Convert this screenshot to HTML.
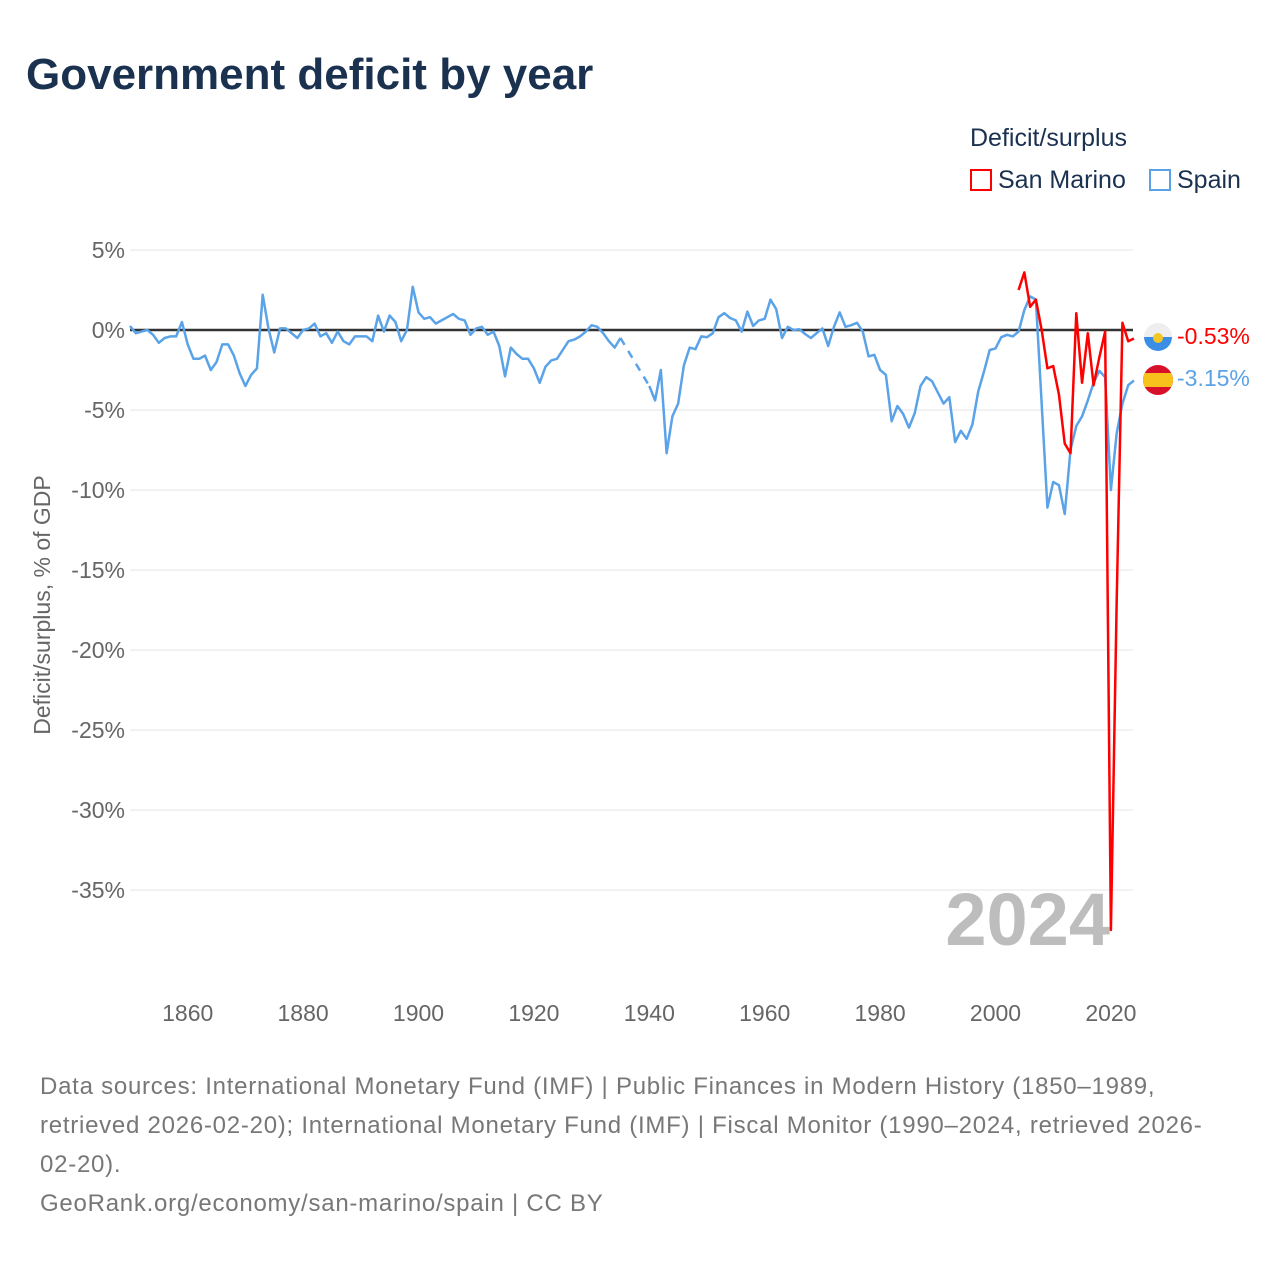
<!DOCTYPE html>
<html><head><meta charset="utf-8">
<style>
body{margin:0;background:#fff;font-family:"Liberation Sans",sans-serif;}
#wrap{position:relative;width:1280px;height:1280px;overflow:hidden;}
.t{position:absolute;white-space:nowrap;}
</style></head>
<body>
<div id="wrap">
<div class="t" style="left:26px;top:50px;font-size:44px;font-weight:bold;color:#1b3150;">Government deficit by year</div>
<div class="t" style="left:970px;top:124px;font-size:25px;color:#1b3150;">Deficit/surplus</div>
<div class="t" style="left:970px;top:166px;font-size:25px;color:#1b3150;"><span style="display:inline-block;width:22px;height:22px;border:2px solid #f00;box-sizing:border-box;vertical-align:-3px;margin-right:6px"></span>San Marino</div>
<div class="t" style="left:1149px;top:166px;font-size:25px;color:#1b3150;"><span style="display:inline-block;width:22px;height:22px;border:2px solid #5ba3e8;box-sizing:border-box;vertical-align:-3px;margin-right:6px"></span>Spain</div>
<svg id="chart" width="1280" height="1280" style="position:absolute;left:0;top:0"></svg>
<div class="t" style="left:40px;top:1067px;font-size:24px;line-height:39px;color:#777;letter-spacing:0.75px;">Data sources: International Monetary Fund (IMF) | Public Finances in Modern History (1850–1989,<br>retrieved 2026-02-20); International Monetary Fund (IMF) | Fiscal Monitor (1990–2024, retrieved 2026-<br>02-20).<br>GeoRank.org/economy/san-marino/spain | CC BY</div>
</div>
<script>
const startYear = 1850;
const spain = [0.25,-0.2,-0.1,0,-0.3,-0.8,-0.5,-0.4,-0.4,0.5,
-0.9,-1.8,-1.8,-1.6,-2.5,-2.0,-0.9,-0.9,-1.6,-2.7,
-3.5,-2.8,-2.4,2.2,0.1,-1.4,0.1,0.1,-0.2,-0.5,
0,0.1,0.4,-0.4,-0.2,-0.8,-0.1,-0.7,-0.9,-0.4,
-0.4,-0.4,-0.7,0.9,-0.1,0.9,0.5,-0.7,0,2.7,
1.1,0.7,0.8,0.4,0.6,0.8,1.0,0.7,0.6,-0.3,
0.1,0.2,-0.3,-0.1,-1.0,-2.9,-1.1,-1.5,-1.8,-1.8,
-2.4,-3.3,-2.3,-1.9,-1.8,-1.25,-0.7,-0.6,-0.4,-0.1,
0.3,0.2,-0.2,-0.7,-1.1,-0.5,null,null,null,null,
-3.5,-4.4,-2.5,-7.7,-5.4,-4.6,-2.2,-1.1,-1.2,-0.4,
-0.45,-0.2,0.8,1.05,0.75,0.6,-0.1,1.15,0.25,0.6,
0.7,1.9,1.3,-0.5,0.2,0,0.05,-0.25,-0.5,-0.2,
0.1,-1.0,0.2,1.1,0.2,0.3,0.45,-0.1,-1.65,-1.55,
-2.5,-2.8,-5.7,-4.75,-5.25,-6.1,-5.2,-3.5,-2.95,-3.2,
-3.9,-4.6,-4.2,-7.0,-6.3,-6.8,-5.9,-3.85,-2.6,-1.25,
-1.15,-0.45,-0.3,-0.4,-0.1,1.25,2.1,1.9,-4.6,-11.1,
-9.5,-9.7,-11.5,-7.5,-6.0,-5.4,-4.4,-3.3,-2.55,-2.95,
-10.0,-6.45,-4.6,-3.45,-3.15];
const smStart = 2004;
const sanMarino = [2.5,3.6,1.45,1.9,0,-2.4,-2.25,-4.05,-7.1,-7.7,1.05,-3.3,-0.2,-3.45,-1.7,-0.1,-37.5,-17,0.45,-0.7,-0.53];
const yTicks = [5,0,-5,-10,-15,-20,-25,-30,-35];
const xTicks = [1860,1880,1900,1920,1940,1960,1980,2000,2020];

const NS="http://www.w3.org/2000/svg";
const svg=document.getElementById('chart');
const X=y=>130+(y-1850)*5.77;
const Y=v=>330-v*16;
function mk(t,a){const e=document.createElementNS(NS,t);for(const k in a)e.setAttribute(k,a[k]);svg.appendChild(e);return e;}
yTicks.forEach(v=>{
  const l=mk('line',{x1:130,x2:1133,y1:Y(v),y2:Y(v),stroke:v===0?'#333':'#e6e6e6','stroke-width':v===0?2.5:1});
  
  
  const t=mk('text',{x:125,y:Y(v)+8,'text-anchor':'end','font-size':23,fill:'#666','font-family':'Liberation Sans, sans-serif'});
  t.textContent=v+'%';
  
  
});
xTicks.forEach(yr=>{
  const t=mk('text',{x:X(yr),y:1021,'text-anchor':'middle','font-size':23,fill:'#666','font-family':'Liberation Sans, sans-serif'});
  t.textContent=yr;
  
  
});
const yt=mk('text',{transform:'translate(50,605) rotate(-90)','text-anchor':'middle','font-size':23,fill:'#666','font-family':'Liberation Sans, sans-serif'});
yt.textContent='Deficit/surplus, % of GDP';


const yr=mk('text',{x:1110,y:945,'text-anchor':'end','font-size':74,'font-weight':'bold',fill:'#bdbdbd','font-family':'Liberation Sans, sans-serif'});
yr.textContent='2024';



function drawSeries(arr,start,color,name){
  let prev=null,d='';
  arr.forEach((v,i)=>{
    if(v===null)return;
    const p=[X(start+i),Y(v)];
    if(prev&&prev.i<i-1){
      const g=mk('line',{x1:prev.p[0],y1:prev.p[1],x2:p[0],y2:p[1],stroke:color,'stroke-width':2.5,'stroke-dasharray':'8,7',fill:'none'});
      
      
      d+='M'+p[0]+','+p[1];
    } else d+=(d?'L':'M')+p[0]+','+p[1];
    prev={i,p};
  });
  const path=mk('path',{d,stroke:color,'stroke-width':2.5,fill:'none','stroke-linejoin':'round'});
  
  
}
drawSeries(spain,startYear,'#5ba3e8','spain');
drawSeries(sanMarino,smStart,'#ff0000','san-marino');

const sm=sanMarino[sanMarino.length-1], sp=spain[spain.length-1];
const f1=mk('g',{});


f1.innerHTML='<clipPath id="c1"><circle cx="1158" cy="337" r="14"/></clipPath><g clip-path="url(#c1)"><rect x="1144" y="323" width="28" height="14" fill="#eee"/><rect x="1144" y="337" width="28" height="14" fill="#3a8ee6"/><circle cx="1158" cy="338" r="5" fill="#f3c623"/></g>';
const f2=mk('g',{});


f2.innerHTML='<clipPath id="c2"><circle cx="1158" cy="380" r="15"/></clipPath><g clip-path="url(#c2)"><rect x="1143" y="365" width="30" height="30" fill="#d8102a"/><rect x="1143" y="373" width="30" height="14" fill="#f7c21c"/></g>';
const l1=mk('text',{x:1177,y:344,'font-size':23,fill:'#ff0000','font-family':'Liberation Sans, sans-serif'});
l1.textContent=sm.toFixed(2)+'%';


const l2=mk('text',{x:1177,y:386,'font-size':23,fill:'#5ba3e8','font-family':'Liberation Sans, sans-serif'});
l2.textContent=sp.toFixed(2)+'%';


</script>
</body></html>
